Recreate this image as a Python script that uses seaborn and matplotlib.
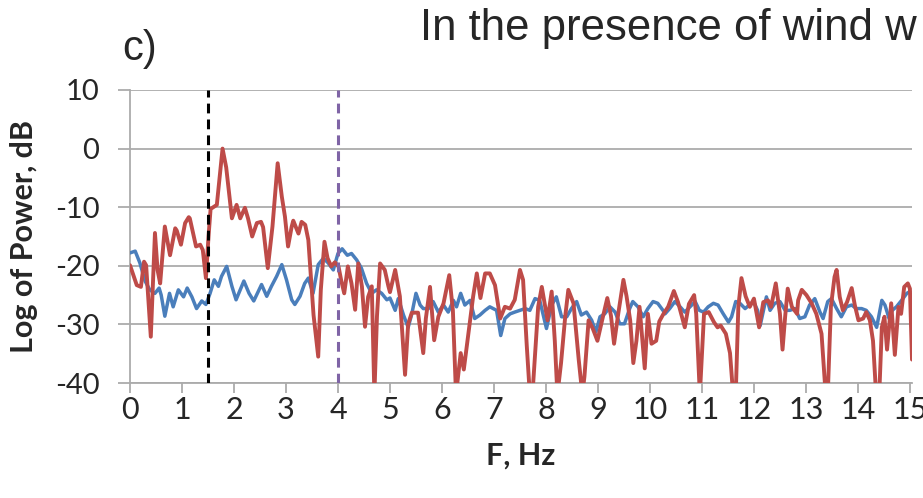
import numpy as np
import pandas as pd
import matplotlib
matplotlib.use("Agg")
import matplotlib.pyplot as plt
import seaborn as sns

# Spectrum with wind (red trace)
wind_freq = [
    0.00, 0.13, 0.21, 0.27, 0.31, 0.40, 0.48, 0.53, 0.58, 0.67, 0.77, 0.87, 0.90, 0.98,
    1.06, 1.13, 1.15, 1.27, 1.35, 1.40, 1.46, 1.51, 1.55, 1.67, 1.78, 1.85, 1.96, 2.05,
    2.12, 2.21, 2.27, 2.35, 2.44, 2.52, 2.56, 2.65, 2.74, 2.84, 2.92, 2.98, 3.04, 3.11,
    3.14, 3.24, 3.30, 3.37, 3.43, 3.53, 3.62, 3.67, 3.74, 3.80, 3.87, 3.94, 4.01, 4.06,
    4.12, 4.19, 4.26, 4.33, 4.39, 4.46, 4.52, 4.58, 4.65, 4.70, 4.75, 4.81, 4.90, 4.97,
    5.00, 5.10, 5.19, 5.29, 5.35, 5.42, 5.54, 5.64, 5.69, 5.77, 5.85, 5.93, 6.03, 6.14,
    6.21, 6.27, 6.36, 6.42, 6.51, 6.60, 6.67, 6.74, 6.83, 6.92, 7.02, 7.12, 7.21, 7.31,
    7.40, 7.50, 7.56, 7.63, 7.69, 7.74, 7.85, 7.92, 8.03, 8.11, 8.17, 8.22, 8.29, 8.37,
    8.43, 8.53, 8.63, 8.70, 8.74, 8.82, 8.90, 8.99, 9.08, 9.18, 9.25, 9.31, 9.39, 9.49,
    9.55, 9.62, 9.68, 9.74, 9.80, 9.90, 9.96, 10.03, 10.12, 10.18, 10.26, 10.35, 10.46,
    10.54, 10.67, 10.75, 10.85, 10.89, 10.96, 11.04, 11.13, 11.23, 11.30, 11.36, 11.46,
    11.54, 11.60, 11.65, 11.70, 11.76, 11.84, 11.92, 12.00, 12.10, 12.18, 12.27, 12.33,
    12.42, 12.50, 12.55, 12.60, 12.65, 12.73, 12.83, 12.85, 12.92, 13.01, 13.11, 13.20,
    13.30, 13.38, 13.42, 13.48, 13.55, 13.59, 13.65, 13.71, 13.79, 13.88, 13.94, 14.01,
    14.10, 14.16, 14.23, 14.29, 14.35, 14.41, 14.46, 14.51, 14.56, 14.64, 14.71, 14.78,
    14.83, 14.89, 14.96, 15.00, 15.04,
]
wind_db = [
    -19.9, -23.3, -23.6, -19.3, -19.9, -32.1, -14.4, -20.7, -23.0, -13.3, -18.2, -13.6, -14.0, -16.4,
    -12.7, -11.7, -11.9, -16.7, -16.4, -17.3, -22.1, -15.0, -10.3, -9.6, 0.0, -3.2, -11.9, -9.6,
    -11.9, -10.1, -11.9, -15.0, -12.7, -12.5, -13.4, -20.4, -13.3, -2.5, -8.2, -11.6, -16.7, -13.3,
    -12.3, -14.5, -12.5, -13.0, -15.6, -28.4, -35.5, -24.1, -15.9, -18.7, -20.1, -19.4, -20.1, -22.4,
    -24.7, -20.1, -23.0, -27.5, -19.6, -23.5, -30.4, -25.3, -23.5, -42.0, -28.6, -19.6, -20.7, -23.5,
    -24.5, -20.7, -25.2, -38.6, -29.9, -28.0, -28.0, -34.9, -29.0, -23.6, -32.7, -28.7, -26.4, -21.6,
    -27.6, -42.0, -34.9, -37.7, -31.4, -25.2, -21.3, -25.5, -21.3, -21.3, -23.3, -29.0, -27.0, -27.3,
    -25.8, -20.7, -22.4, -33.5, -42.0, -42.0, -27.0, -23.6, -29.3, -24.4, -32.8, -42.0, -36.6, -28.7,
    -24.1, -26.4, -36.0, -42.0, -38.9, -29.3, -30.7, -32.8, -29.3, -25.5, -28.5, -33.3, -28.2, -22.4,
    -25.2, -29.3, -36.6, -32.8, -27.0, -37.5, -28.2, -33.3, -32.8, -29.5, -28.2, -27.0, -24.3,
    -26.2, -30.5, -26.5, -25.0, -28.2, -42.0, -28.2, -27.9, -29.6, -30.5, -30.2, -31.6,
    -34.9, -42.0, -42.0, -27.0, -22.1, -25.2, -27.0, -25.6, -30.5, -26.2, -25.9, -27.0,
    -23.0, -28.2, -34.3, -28.7, -23.9, -27.0, -28.2, -25.9, -24.1, -25.0, -26.4, -28.2,
    -31.6, -42.0, -42.0, -27.0, -21.9, -20.7, -25.3, -27.6, -26.2, -23.8, -26.7, -29.3,
    -29.0, -27.9, -29.3, -32.8, -42.0, -42.0, -30.5, -28.7, -34.3, -26.4, -35.2, -27.0,
    -28.2, -23.6, -23.0, -23.9, -36.0,
]

# Background spectrum (blue trace)
calm_freq = [
    0.00, 0.10, 0.19, 0.29, 0.38, 0.48, 0.56, 0.60, 0.67, 0.76, 0.83, 0.93, 1.03, 1.10,
    1.19, 1.28, 1.38, 1.46, 1.54, 1.62, 1.70, 1.76, 1.86, 1.96, 2.04, 2.12, 2.19, 2.29,
    2.38, 2.53, 2.63, 2.72, 2.82, 2.92, 3.01, 3.11, 3.17, 3.27, 3.36, 3.43, 3.52, 3.62,
    3.72, 3.81, 3.91, 4.00, 4.08, 4.18, 4.26, 4.36, 4.45, 4.55, 4.65, 4.74, 4.84, 4.94,
    5.00, 5.10, 5.16, 5.26, 5.35, 5.42, 5.50, 5.58, 5.64, 5.74, 5.83, 5.93, 6.03, 6.12,
    6.22, 6.28, 6.36, 6.44, 6.54, 6.63, 6.73, 6.83, 6.92, 7.05, 7.13, 7.21, 7.31, 7.40,
    7.50, 7.60, 7.69, 7.79, 7.88, 8.01, 8.11, 8.20, 8.30, 8.40, 8.49, 8.59, 8.68, 8.78,
    8.88, 8.96, 9.04, 9.13, 9.23, 9.33, 9.42, 9.51, 9.61, 9.67, 9.77, 9.87, 9.96, 10.06,
    10.15, 10.25, 10.29, 10.38, 10.48, 10.58, 10.67, 10.77, 10.87, 10.95, 11.03, 11.12,
    11.22, 11.31, 11.41, 11.51, 11.57, 11.65, 11.73, 11.83, 11.91, 11.99, 12.07, 12.12,
    12.19, 12.24, 12.31, 12.40, 12.50, 12.60, 12.69, 12.79, 12.88, 12.98, 13.07, 13.17,
    13.27, 13.33, 13.42, 13.49, 13.59, 13.68, 13.78, 13.88, 13.97, 14.07, 14.16, 14.26,
    14.36, 14.46, 14.52, 14.60, 14.66, 14.74, 14.84, 14.94, 15.00,
]
calm_db = [
    -17.8, -17.5, -19.5, -22.6, -24.1, -24.7, -23.8, -25.0, -28.6, -24.7, -27.0, -24.1, -25.3, -23.8,
    -25.3, -27.3, -26.0, -26.6, -24.7, -22.4, -23.5, -21.8, -20.1, -23.5, -25.8, -24.1, -22.6, -24.7,
    -26.0, -23.2, -25.2, -23.5, -21.8, -19.8, -22.4, -25.8, -26.6, -25.2, -23.0, -22.1, -24.7, -19.8,
    -18.7, -19.5, -20.7, -17.9, -17.1, -18.2, -17.9, -19.0, -20.4, -23.0, -24.7, -24.1, -24.7, -25.8,
    -25.5, -27.6, -25.6, -28.4, -30.5, -28.2, -24.7, -26.7, -27.3, -27.3, -26.1, -27.9, -26.7, -27.9,
    -25.9, -27.0, -24.7, -26.7, -25.9, -29.0, -28.4, -27.6, -27.0, -27.6, -31.9, -29.0, -28.2, -27.9,
    -27.6, -27.3, -27.6, -25.6, -25.9, -30.7, -26.7, -25.3, -28.7, -28.7, -27.3, -26.1, -28.4, -27.9,
    -29.3, -31.3, -28.7, -28.2, -27.0, -27.9, -29.9, -29.9, -27.3, -26.1, -27.0, -28.7, -27.3, -26.1,
    -26.4, -27.6, -28.2, -27.3, -26.1, -27.0, -27.9, -27.0, -26.1, -27.6, -27.9, -27.0,
    -26.4, -26.7, -28.2, -29.6, -28.7, -26.1, -26.4, -27.3, -26.7, -26.1, -27.6, -30.2,
    -27.3, -25.3, -27.6, -26.4, -26.1, -27.6, -27.6, -27.3, -29.0, -28.7, -26.7, -25.6,
    -27.9, -29.0, -26.1, -25.6, -27.3, -28.7, -27.0, -26.7, -27.3, -27.3, -27.6, -28.7,
    -30.5, -25.9, -26.7, -29.0, -27.6, -27.0, -25.9, -24.7, -24.4,
]

marker_freqs = [1.5, 4.0]
marker_colors = ["#000000", "#7F64A6"]
x_ticks = list(range(0, 16))
y_ticks = [10, 0, -10, -20, -30, -40]

df = pd.concat([
    pd.DataFrame({"F": calm_freq, "power": calm_db, "trace": "calm"}),
    pd.DataFrame({"F": wind_freq, "power": wind_db, "trace": "wind"}),
], ignore_index=True)

sns.set_theme(style="white")
plt.rcParams["font.family"] = ["Lato", "DejaVu Sans"]

grid_c = "#ABABAB"
fig, ax = plt.subplots(figsize=(9.23, 4.98), dpi=100)
fig.subplots_adjust(left=130 / 923, right=912 / 923, top=1 - 90 / 498, bottom=1 - 383 / 498)

for y in y_ticks:
    ax.axhline(y, color=grid_c, lw=1.3, zorder=0)

sns.lineplot(data=df, x="F", y="power", hue="trace",
             palette={"calm": "#4A7EBB", "wind": "#BE4B48"},
             estimator=None, sort=False, legend=False, ax=ax, zorder=3)
for line, lw in zip(ax.get_lines()[-2:], [2.5, 2.8]):
    line.set_linewidth(lw)
    line.set_solid_joinstyle("round")

for fx, c in zip(marker_freqs, marker_colors):
    ax.axvline(fx, color=c, lw=2.2, ls=(0, (3.2, 2)), zorder=4)

ax.set_xlim(0, 15.04)
ax.set_ylim(-40, 10)
ax.set_xticks(x_ticks)
ax.set_yticks(y_ticks)
ax.set_xticklabels([str(t) for t in x_ticks])
ax.set_yticklabels([str(t) for t in y_ticks])

for side in ["top", "right"]:
    ax.spines[side].set_visible(False)
for side in ["left", "bottom"]:
    ax.spines[side].set_color(grid_c)
    ax.spines[side].set_linewidth(1.3)

ax.tick_params(axis="x", direction="out", length=7, width=1.3, color=grid_c,
               labelsize=22, pad=2, bottom=True)
ax.tick_params(axis="y", direction="out", length=9, width=1.3, color=grid_c,
               labelsize=21, pad=13, left=True)

ax.set_xlabel("F, Hz", fontsize=22, fontweight="bold", labelpad=13)
ax.set_ylabel("Log of Power, dB", fontsize=22, fontweight="bold", labelpad=12)

fig.text(420 / 923, 1 - 40 / 498, "In the presence of wind w",
         family=["Liberation Sans Narrow", "Liberation Sans", "DejaVu Sans"],
         fontsize=31.5, va="baseline", ha="left")
fig.text(122 / 923, 1 - 60 / 498, "c)",
         family=["Liberation Sans Narrow", "Liberation Sans", "DejaVu Sans"],
         fontsize=30, va="baseline", ha="left")

fig.savefig("out.png", dpi=100)
